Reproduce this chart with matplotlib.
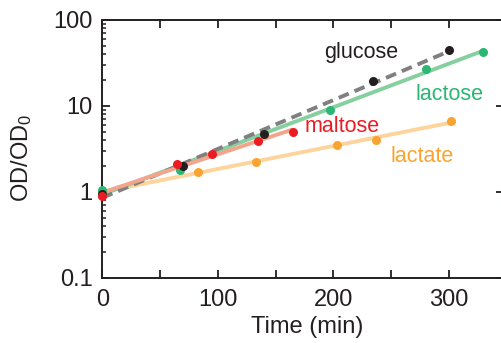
import numpy as np
import matplotlib
matplotlib.use("Agg")
import matplotlib.pyplot as plt
from matplotlib.ticker import MultipleLocator, FuncFormatter, LogLocator, NullFormatter

plt.rcParams['font.family'] = ['Liberation Sans', 'DejaVu Sans']
plt.rcParams['mathtext.fontset'] = 'custom'
plt.rcParams['mathtext.rm'] = 'Liberation Sans'
plt.rcParams['mathtext.it'] = 'Liberation Sans'

# data (time in min, OD/OD0)
glucose_t = [0, 70, 140, 234, 300]
glucose_v = [0.95, 2.0, 4.75, 19.4, 44.5]
lactose_t = [0, 67, 197, 280, 329]
lactose_v = [1.05, 1.78, 8.9, 27.1, 42.7]
maltose_t = [0, 65, 95, 135, 165]
maltose_v = [0.91, 2.13, 2.73, 3.9, 5.05]
lactate_t = [0, 83, 133, 203, 237, 302]
lactate_v = [1.0, 1.70, 2.26, 3.54, 4.07, 6.66]

series = [
    # name, t, v, point colour, line colour, line style, label pos
    ("lactate", lactate_t, lactate_v, "#f9a431", "#fdd49c", "-", (249.5, 2.22)),
    ("lactose", lactose_t, lactose_v, "#2bb673", "#86cf9f", "-", (271, 11.9)),
    ("glucose", glucose_t, glucose_v, "#231f20", "#808080", "--", (191.8, 35.7)),
    ("maltose", maltose_t, maltose_v, "#ed1c24", "#f4a48a", "-", (175.3, 4.96)),
]
label_colors = {"glucose": "#231f20", "lactose": "#2bb673", "maltose": "#ed1c24", "lactate": "#f9a431"}

fig = plt.figure(figsize=(5.01, 3.43), dpi=100)
ax = fig.add_axes([102.3/501, 1-278/343, (504-102.3)/501, (278-20)/343])

for name, t, v, pc, lc, ls, _ in series:
    t = np.array(t, float); v = np.array(v, float)
    k, b = np.polyfit(t, np.log10(v), 1)
    tt = np.array([t.min(), t.max()])
    if ls == "--":
        ax.plot(tt, 10**(k*tt+b), ls=ls, color=lc, lw=2.8, dashes=(2.8, 1.6), zorder=2)
    else:
        ax.plot(tt, 10**(k*tt+b), ls=ls, color=lc, lw=2.8, zorder=2,
                solid_capstyle='butt')

for name, t, v, pc, lc, ls, pos in series:
    ax.plot(t, v, 'o', color=pc, ms=6.5, mew=0, zorder=3, clip_on=False)
    ax.text(pos[0], pos[1], name, color=label_colors[name], fontsize=15.5,
            ha='left', va='baseline')

ax.set_yscale('log')
ax.set_xlim(0, 347.5)
ax.set_ylim(0.1, 100)
ax.xaxis.set_major_locator(MultipleLocator(50))
ax.xaxis.set_major_formatter(FuncFormatter(lambda x, p: f"{int(x)}" if int(round(x)) % 100 == 0 else ""))
ax.yaxis.set_major_locator(LogLocator(base=10, numticks=10))
ax.yaxis.set_major_formatter(FuncFormatter(lambda y, p: {0.1: "0.1", 1: "1", 10: "10", 100: "100"}.get(round(y, 3), "")))
ax.yaxis.set_minor_locator(LogLocator(base=10, subs=np.arange(2, 10), numticks=10))
ax.yaxis.set_minor_formatter(NullFormatter())

ax.tick_params(which='major', direction='in', length=5.5, width=1.3, labelsize=17,
               top=True, right=True, color='#231f20', labelcolor='#231f20')
ax.tick_params(which='minor', direction='in', length=3.2, width=1.1, right=False, color='#231f20')
ax.tick_params(axis='x', pad=8)
ax.tick_params(axis='y', pad=7)
for s in ax.spines.values():
    s.set_linewidth(1.4)
    s.set_color('#231f20')

ax.set_xlabel("Time (min)", fontsize=17, color='#231f20')
ax.xaxis.set_label_coords((307.5-102.3)/(504-102.3), (278-327)/258, transform=ax.transAxes)
ax.xaxis.label.set_va('center')
ax.set_ylabel("OD/OD$_0$", fontsize=17, color='#231f20')
ax.yaxis.set_label_coords((22-102.3)/(504-102.3), (278-157.5)/258, transform=ax.transAxes)
ax.yaxis.label.set_va('center')

fig.savefig("out.png", dpi=100)
